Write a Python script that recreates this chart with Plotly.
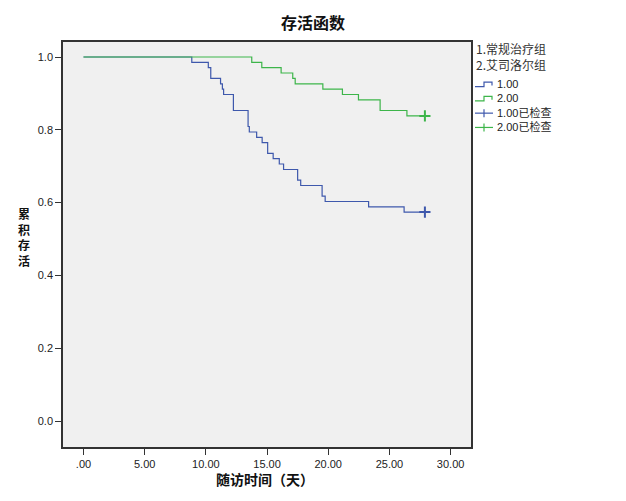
import plotly.graph_objects as go

# ---- data ----
group_labels = ["1.常规治疗组", "2.艾司洛尔组"]
series_names = ["1.00", "2.00"]
censor_names = ["1.00已检查", "2.00已检查"]

blue_time = [0, 8.85, 10.2, 10.4, 11.2, 11.35, 11.45, 12.25, 13.45, 13.55, 14.15, 14.6,
             15.05, 15.5, 16.0, 16.35, 17.5, 17.75, 19.5, 19.75, 23.3, 26.2, 27.9]
blue_surv = [1.0, 0.985, 0.971, 0.941, 0.926, 0.912, 0.897, 0.853, 0.809, 0.794, 0.779, 0.765,
             0.735, 0.721, 0.706, 0.691, 0.662, 0.647, 0.618, 0.603, 0.588, 0.574, 0.574]
blue_censor_time = [27.9]
blue_censor_surv = [0.574]

green_time = [0, 13.75, 14.57, 16.15, 17.1, 17.3, 19.56, 21.16, 22.47, 24.24, 26.43, 27.9]
green_surv = [1.0, 0.985, 0.971, 0.956, 0.941, 0.926, 0.912, 0.897, 0.882, 0.853, 0.838, 0.838]
green_censor_time = [27.9]
green_censor_surv = [0.838]

x_tick_vals = [0, 5, 10, 15, 20, 25, 30]
x_tick_text = [".00", "5.00", "10.00", "15.00", "20.00", "25.00", "30.00"]
y_tick_vals = [0.0, 0.2, 0.4, 0.6, 0.8, 1.0]
y_tick_text = ["0.0", "0.2", "0.4", "0.6", "0.8", "1.0"]

BLUE = "#3E58AC"
GREEN = "#3DB54A"

W, H = 626, 501
L, R, T, B = 63, 471, 42, 447


def xp(px):
    return (px - L) / (R - L)


def yp(py):
    return (B - py) / (B - T)


fig = go.Figure()
fig.add_trace(go.Scatter(x=blue_time, y=blue_surv, mode="lines", line=dict(color=BLUE, width=1.2, shape="hv"),
                         name=series_names[0], showlegend=False))
fig.add_trace(go.Scatter(x=green_time, y=green_surv, mode="lines", line=dict(color=GREEN, width=1.2, shape="hv"),
                         name=series_names[1], showlegend=False))
fig.add_trace(go.Scatter(x=blue_censor_time, y=blue_censor_surv, mode="markers",
                         marker=dict(symbol="cross-thin", size=8, line=dict(color=BLUE, width=2)),
                         name=censor_names[0], showlegend=False))
fig.add_trace(go.Scatter(x=green_censor_time, y=green_censor_surv, mode="markers",
                         marker=dict(symbol="cross-thin", size=8, line=dict(color=GREEN, width=2)),
                         name=censor_names[1], showlegend=False))

CJK = "Noto Sans CJK SC"
LAT = "Liberation Sans, Arial, sans-serif"
MIX = "Liberation Sans, Noto Sans CJK SC, sans-serif"


def ann(text, px, py, size, color, family=CJK, xanchor="center", align="center"):
    return dict(text=text, x=xp(px), y=yp(py), xref="paper", yref="paper",
                xanchor=xanchor, yanchor="middle", showarrow=False, align=align,
                font=dict(family=family, size=size, color=color))


annotations = []
annotations.append(ann("<b>存活函数</b>", 313, 22, 16, "#111"))
annotations.append(ann("<b>随访时间（天）</b>", 265, 479, 14, "#111"))
annotations.append(ann("<b>" + "<br>".join("累积存活") + "</b>", 24, 237, 12, "#111"))
annotations.append(ann("<br>".join(group_labels), 474, 56.5, 12, "#333", xanchor="left", align="left"))

# legend block (one multi-line text, icons drawn next to each row)
leg_text = series_names + censor_names
leg_col = [BLUE, GREEN, BLUE, GREEN]
LEG_FS = 11
row_gap = LEG_FS * 1.3
leg_center = 106
leg_rows = [leg_center + (i - 1.5) * row_gap for i in range(4)]
annotations.append(ann("<br>".join(leg_text), 495, leg_center, LEG_FS, "#222", family=MIX,
                       xanchor="left", align="left"))
shapes = []
for i, (yc, col) in enumerate(zip(leg_rows, leg_col)):
    if i < 2:
        pts = [(475, yc + 2), (484, yc + 2), (484, yc - 2.5), (492, yc - 2.5), (492, yc + 1)]
        path = "M " + " L ".join("%f,%f" % (xp(a), yp(b)) for a, b in pts)
        shapes.append(dict(type="path", path=path, xref="paper", yref="paper",
                           line=dict(color=col, width=1.2)))
    else:
        shapes.append(dict(type="line", x0=xp(475), x1=xp(493), y0=yp(yc), y1=yp(yc), xref="paper", yref="paper",
                           line=dict(color=col, width=1.2)))
        shapes.append(dict(type="line", x0=xp(484), x1=xp(484), y0=yp(yc - 4), y1=yp(yc + 4), xref="paper",
                           yref="paper", line=dict(color=col, width=1.2)))

fig.update_layout(
    width=W, height=H,
    margin=dict(l=L, r=W - R, t=T, b=H - B),
    paper_bgcolor="white",
    plot_bgcolor="#F0F0F0",
    showlegend=False,
    annotations=annotations,
    shapes=shapes,
    xaxis=dict(range=[-1.675, 31.667], tickvals=x_tick_vals, ticktext=x_tick_text,
               showgrid=False, zeroline=False, showline=True, mirror=True,
               linecolor="#333", linewidth=1.5, ticks="outside", ticklen=6, tickcolor="#333",
               tickfont=dict(family=LAT, size=11, color="#222")),
    yaxis=dict(range=[-0.0714, 1.0412], tickvals=y_tick_vals, ticktext=y_tick_text,
               showgrid=False, zeroline=False, showline=True, mirror=True,
               linecolor="#333", linewidth=1.5, ticks="outside", ticklen=6, tickcolor="#333",
               tickfont=dict(family=LAT, size=11, color="#222")),
)

fig.write_html("out.html", config={"displayModeBar": False},
               post_script="document.body.style.margin='0px';")
